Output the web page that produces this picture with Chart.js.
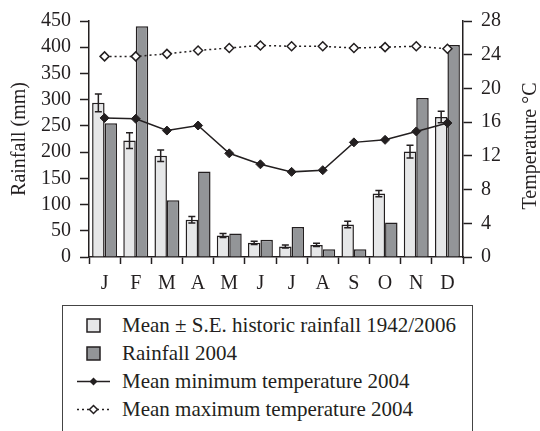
<!DOCTYPE html>
<html>
<head>
<meta charset="utf-8">
<script src="https://cdn.jsdelivr.net/npm/chart.js@4/dist/chart.umd.min.js"></script>
<style>
  body { margin: 0; background: #fff; width: 540px; height: 431px; overflow: hidden; position: relative; font-family: "Liberation Serif", "Times New Roman", serif; color: #231f20; }
  #wrap { position: absolute; left: 0; top: 0; width: 540px; height: 295px; }
  #legend { position: absolute; left: 62px; top: 305px; width: 411px; height: 150px; border: 1.5px solid #444; box-sizing: border-box; }
  .item { position: absolute; left: 0; height: 28px; display: flex; align-items: center; font-size: 21px; white-space: nowrap; }
  .item svg { position: absolute; left: 14px; }
  .item span { position: absolute; left: 59px; }
</style>
</head>
<body>
<div id="wrap"><canvas id="chart" width="540" height="295"></canvas></div>
<div id="legend"></div>
<script>
const months = ['J', 'F', 'M', 'A', 'M', 'J', 'J', 'A', 'S', 'O', 'N', 'D'];
const historicMean = [294, 222, 193, 71, 41, 27, 20, 23, 62, 121, 201, 267];
const historicSE = [17, 15, 11, 6, 4, 3, 3, 3, 6, 6, 12, 11];
const rain2004 = [255, 440, 108, 163, 45, 33, 57, 15, 15, 66, 303, 404];
const minTemp = [16.5, 16.4, 15.0, 15.6, 12.3, 11.0, 10.1, 10.3, 13.6, 13.9, 14.9, 15.9];
const maxTemp = [23.8, 23.8, 24.1, 24.5, 24.8, 25.1, 25.0, 25.0, 24.8, 24.9, 25.0, 24.7];
const rainTicks = [0, 450, 50];
const tempTicks = [0, 28, 4];

const ink = '#231f20';
const font = "'Liberation Serif', serif";

// error bars on the historic series
const errorBars = {
  id: 'errorBars',
  afterDatasetDraw(chart, args) {
    if (args.index !== 0) return;
    const c = chart.ctx;
    const y = chart.scales.y;
    c.save();
    c.strokeStyle = ink;
    c.lineWidth = 1.5;
    args.meta.data.forEach((bar, i) => {
      const hi = y.getPixelForValue(historicMean[i] + historicSE[i]);
      const lo = y.getPixelForValue(historicMean[i] - historicSE[i]);
      c.beginPath();
      c.moveTo(bar.x, hi); c.lineTo(bar.x, lo);
      c.moveTo(bar.x - 3.5, hi); c.lineTo(bar.x + 3.5, hi);
      c.moveTo(bar.x - 3.5, lo); c.lineTo(bar.x + 3.5, lo);
      c.stroke();
    });
    c.restore();
  }
};

// both axis titles read bottom to top
const axisTitles = {
  id: 'axisTitles',
  afterDraw(chart) {
    const c = chart.ctx;
    c.save();
    c.fillStyle = ink;
    c.font = '20px ' + font;
    c.textAlign = 'center';
    c.textBaseline = 'middle';
    [['Rainfall (mm)', 20, 139], ['Temperature °C', 531, 146]].forEach(([t, x, yy]) => {
      c.save();
      c.translate(x, yy);
      c.rotate(-Math.PI / 2);
      c.fillText(t, 0, 0);
      c.restore();
    });
    c.restore();
  }
};

const axisLook = (len, pad) => ({
  grid: { drawOnChartArea: false, drawTicks: true, tickLength: len, color: ink, tickColor: ink, tickWidth: 1.5 },
  border: { display: true, color: ink, width: 1.5 },
  ticks: { color: ink, font: { family: font, size: 20 }, padding: pad, autoSkip: false, maxRotation: 0 }
});

function draw() {
  const yTicks = axisLook(9, 9);
  yTicks.ticks.stepSize = rainTicks[2];
  const y2Ticks = axisLook(9, 9);
  y2Ticks.ticks.stepSize = tempTicks[2];

  new Chart(document.getElementById('chart'), {
    type: 'bar',
    data: {
      labels: months,
      datasets: [
        { label: 'Mean ± S.E. historic rainfall 1942/2006', data: historicMean, backgroundColor: '#e6e7e8', borderColor: ink, borderWidth: 1.5, yAxisID: 'y', order: 1, categoryPercentage: 0.8, barPercentage: 1 },
        { label: 'Rainfall 2004', data: rain2004, backgroundColor: '#939598', borderColor: ink, borderWidth: 1.5, yAxisID: 'y', order: 1, categoryPercentage: 0.8, barPercentage: 1 },
        { type: 'line', label: 'Mean minimum temperature 2004', data: minTemp, yAxisID: 'y2', order: 0, borderColor: ink, borderWidth: 1.5, pointStyle: 'rectRot', pointRadius: 4.5, pointBackgroundColor: ink, pointBorderColor: ink, pointBorderWidth: 1 },
        { type: 'line', label: 'Mean maximum temperature 2004', data: maxTemp, yAxisID: 'y2', order: 0, borderColor: ink, borderWidth: 1.5, borderDash: [2, 3], pointStyle: 'rectRot', pointRadius: 4.5, pointBackgroundColor: '#fff', pointBorderColor: ink, pointBorderWidth: 1.5 }
      ]
    },
    options: {
      responsive: false,
      animation: false,
      layout: { padding: { top: 21, left: 0, right: 0, bottom: 0 } },
      plugins: { legend: { display: false }, tooltip: { enabled: false } },
      scales: {
        x: Object.assign(axisLook(7, 8), {
          afterFit: s => { s.height = 38; }
        }),
        y: Object.assign(yTicks, {
          position: 'left', min: rainTicks[0], max: rainTicks[1],
          afterFit: s => { s.width = 89; }
        }),
        y2: Object.assign(y2Ticks, {
          position: 'right', min: tempTicks[0], max: tempTicks[1],
          afterFit: s => { s.width = 77; }
        })
      }
    },
    plugins: [errorBars, axisTitles]
  });
}

// legend box
const legendItems = [
  { text: 'Mean ± S.E. historic rainfall 1942/2006', sym: '<rect x="10" y="7" width="13" height="13" fill="#e6e7e8" stroke="#231f20" stroke-width="1.5"/>' },
  { text: 'Rainfall 2004', sym: '<rect x="10" y="7" width="13" height="13" fill="#939598" stroke="#231f20" stroke-width="1.5"/>' },
  { text: 'Mean minimum temperature 2004', sym: '<line x1="0" y1="13.5" x2="33" y2="13.5" stroke="#231f20" stroke-width="1.5"/><path d="M16.5 9.5 L20.5 13.5 L16.5 17.5 L12.5 13.5 Z" fill="#231f20"/>' },
  { text: 'Mean maximum temperature 2004', sym: '<line x1="0" y1="13.5" x2="33" y2="13.5" stroke="#231f20" stroke-width="1.5" stroke-dasharray="2 3"/><path d="M16.5 9.5 L20.5 13.5 L16.5 17.5 L12.5 13.5 Z" fill="#fff" stroke="#231f20" stroke-width="1.5"/>' }
];
const legend = document.getElementById('legend');
legendItems.forEach((it, i) => {
  const d = document.createElement('div');
  d.className = 'item';
  d.style.top = (5 + i * 28) + 'px';
  d.innerHTML = '<svg width="34" height="27">' + it.sym + '</svg><span>' + it.text + '</span>';
  legend.appendChild(d);
});

document.fonts.load("20px 'Liberation Serif'").then(draw, draw);
</script>
</body>
</html>
